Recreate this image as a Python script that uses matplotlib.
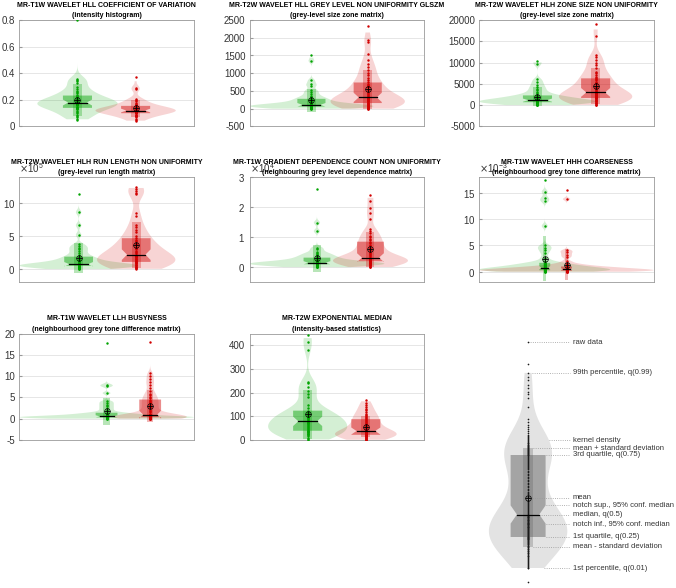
import numpy as np
import matplotlib
matplotlib.use('Agg')
import matplotlib.pyplot as plt
from matplotlib import mlab
from matplotlib.patches import Polygon, Rectangle
from matplotlib.ticker import FuncFormatter

plt.rcParams['font.family'] = ['Liberation Sans', 'DejaVu Sans']

# ---- raw data (green = group 1, red = group 2) ----
hll_cov_green = [0.05, 0.06, 0.07, 0.08, 0.09, 0.10, 0.11, 0.12, 0.13, 0.13, 0.14, 0.14,
                 0.15, 0.15, 0.16, 0.16, 0.16, 0.17, 0.17, 0.17, 0.17, 0.18, 0.18, 0.18,
                 0.19, 0.19, 0.20, 0.20, 0.21, 0.21, 0.22, 0.22, 0.23, 0.24, 0.25, 0.26,
                 0.27, 0.28, 0.30, 0.33, 0.34, 0.35, 0.36, 0.80]
hll_cov_red = [0.04, 0.05, 0.06, 0.07, 0.08, 0.08, 0.09, 0.09, 0.10, 0.10, 0.10, 0.11,
               0.11, 0.11, 0.11, 0.12, 0.12, 0.12, 0.12, 0.12, 0.13, 0.13, 0.13, 0.13,
               0.14, 0.14, 0.14, 0.15, 0.15, 0.16, 0.16, 0.17, 0.18, 0.19, 0.20, 0.21,
               0.28, 0.29, 0.37]

hll_glnu_green = [0, 5, 10, 15, 20, 30, 35, 40, 45, 50, 55, 60, 65, 70, 75, 80, 85, 90, 95,
                  95, 100, 105, 110, 120, 130, 140, 150, 160, 180, 200, 220, 240, 260, 280,
                  300, 330, 370, 420, 480, 520, 640, 700, 800, 1350, 1510]
hll_glnu_red = [0, 5, 15, 25, 40, 55, 70, 85, 100, 115, 130, 145, 160,
                175, 190, 205, 220, 235, 250, 265, 280, 290, 300, 310, 320,
                350, 380, 410, 440, 480, 520, 560, 600, 640, 680, 710, 740,
                800, 880, 950, 1020, 1100, 1180, 1250, 1370, 1550, 1890, 1950, 2330]

hlh_zsnu_green = [0, 60, 130, 200, 270, 340, 410, 470, 530, 590, 640, 700,
                  740, 790, 840, 890, 940, 990, 1030, 1070, 1110, 1150, 1180,
                  1250, 1350, 1450, 1550, 1650, 1750, 1850, 1950, 2050, 2180, 2300,
                  2500, 2800, 3100, 3500, 3900, 4300, 4800, 5400, 6050, 9590, 10380]
hlh_zsnu_red = [0, 150, 300, 450, 600, 750, 900, 1000, 1150, 1300, 1450, 1580, 1700,
                1800, 1900, 2000, 2100, 2200, 2300, 2450, 2550, 2650, 2750, 2880, 3000,
                3250, 3500, 3750, 4000, 4300, 4600, 4900, 5200, 5500, 5800, 6050, 6300,
                6700, 7200, 7500, 7800, 8650, 9350, 10000, 10600, 11240, 11800, 16350, 19100]

# x 1e5
hlh_rlnu_green = [0.0, 0.05, 0.1, 0.15, 0.2, 0.25, 0.3, 0.35, 0.4, 0.43, 0.47, 0.5,
                  0.52, 0.54, 0.56, 0.58, 0.6, 0.62, 0.64, 0.66, 0.69, 0.72, 0.75,
                  0.82, 0.9, 1.0, 1.1, 1.2, 1.3, 1.4, 1.5, 1.65, 1.78, 1.9,
                  2.1, 2.4, 2.7, 3.0, 3.2, 3.5, 3.75, 5.2, 6.65, 8.65, 11.45]
hlh_rlnu_red = [0.0, 0.1, 0.2, 0.3, 0.4, 0.5, 0.6, 0.7, 0.8, 0.87, 0.94, 1.02, 1.1,
                1.2, 1.3, 1.4, 1.5, 1.6, 1.7, 1.8, 1.9, 2.0, 2.05, 2.12, 2.2,
                2.4, 2.6, 2.8, 3.0, 3.2, 3.4, 3.6, 3.8, 4.0, 4.25, 4.5, 4.7,
                5.0, 5.6, 6.0, 6.4, 6.75, 8.15, 8.5, 11.35, 11.6, 11.85, 12.15, 12.5]

# x 1e4
gdcnu_green = [0.0, 0.01, 0.02, 0.03, 0.04, 0.05, 0.06, 0.07, 0.08, 0.085, 0.09, 0.1,
               0.105, 0.11, 0.115, 0.12, 0.125, 0.13, 0.135, 0.14, 0.143, 0.147, 0.15,
               0.16, 0.17, 0.18, 0.19, 0.2, 0.22, 0.24, 0.26, 0.28, 0.3, 0.32,
               0.34, 0.37, 0.4, 0.43, 0.46, 0.5, 0.6, 0.65, 1.2, 1.48, 2.6]
gdcnu_red = [0.0, 0.02, 0.04, 0.06, 0.08, 0.1, 0.12, 0.13, 0.14, 0.15, 0.17, 0.185, 0.2,
             0.21, 0.22, 0.23, 0.24, 0.25, 0.26, 0.27, 0.28, 0.29, 0.3, 0.31, 0.32,
             0.36, 0.4, 0.44, 0.48, 0.52, 0.56, 0.6, 0.65, 0.7, 0.75, 0.8, 0.85,
             0.9, 0.95, 1.0, 1.05, 1.15, 1.22, 1.28, 1.61, 1.8, 1.96, 2.21, 2.4]

# x 1e-3
hhh_coarse_green = [0.0, 0.03, 0.06, 0.09, 0.12, 0.15, 0.18, 0.2, 0.22, 0.25, 0.28, 0.3,
                    0.34, 0.38, 0.42, 0.46, 0.5, 0.54, 0.58, 0.62, 0.66, 0.7, 0.75,
                    0.82, 0.9, 0.98, 1.06, 1.14, 1.22, 1.3, 1.4, 1.5, 1.6, 1.7,
                    2.0, 2.7, 3.6, 4.2, 4.6, 5.0, 8.7, 13.4, 14.0, 15.2, 17.4]
hhh_coarse_red = [0.0, 0.02, 0.04, 0.06, 0.08, 0.1, 0.12, 0.13, 0.14, 0.15, 0.17, 0.18, 0.2,
                  0.22, 0.25, 0.28, 0.31, 0.34, 0.37, 0.4, 0.42, 0.44, 0.46, 0.48, 0.5,
                  0.54, 0.58, 0.62, 0.66, 0.7, 0.74, 0.78, 0.82, 0.86, 0.9, 0.95, 1.0,
                  1.1, 1.2, 1.3, 1.4, 1.6, 2.0, 2.8, 3.25, 3.7, 4.06, 13.8, 15.6]

llh_busy_green = [0.0, 0.03, 0.06, 0.09, 0.12, 0.15, 0.18, 0.2, 0.22, 0.25, 0.28, 0.3,
                  0.32, 0.34, 0.36, 0.38, 0.4, 0.42, 0.44, 0.46, 0.49, 0.52, 0.55,
                  0.6, 0.66, 0.72, 0.8, 0.88, 0.96, 1.04, 1.12, 1.2, 1.3, 1.4,
                  1.7, 2.1, 2.5, 2.9, 3.3, 3.7, 4.1, 6.0, 7.6, 8.0, 17.8]
llh_busy_red = [0.0, 0.02, 0.04, 0.06, 0.08, 0.1, 0.13, 0.16, 0.19, 0.22, 0.26, 0.3, 0.35,
                0.4, 0.45, 0.5, 0.55, 0.6, 0.65, 0.7, 0.75, 0.8, 0.85, 0.9, 0.95,
                1.2, 1.5, 1.8, 2.1, 2.4, 2.7, 3.0, 3.3, 3.6, 3.9, 4.2, 4.5,
                4.8, 5.1, 5.5, 5.9, 6.4, 7.2, 8.0, 8.6, 9.25, 10.0, 10.7, 18.1]

exp_median_green = [0, 5, 10, 15, 20, 24, 27, 30, 33, 35, 37, 39,
                    42, 46, 50, 54, 58, 62, 66, 70, 73, 76, 79,
                    83, 87, 91, 95, 99, 103, 107, 111, 115, 120, 124,
                    135, 148, 180, 194, 207, 225, 239, 246, 380, 415, 443]
exp_median_red = [0, 2, 4, 6, 8, 10, 12, 14, 16, 17, 19, 20, 22,
                  23, 24, 25, 27, 28, 29, 31, 32, 33, 35, 36, 38,
                  42, 46, 50, 54, 58, 62, 66, 70, 75, 80, 84, 88,
                  93, 98, 100, 104, 110, 118, 125, 131, 138, 148, 158, 169]

# demo sample for the explanatory violin (arbitrary units)
legend_demo = [0, 14,
               14, 15, 16, 17, 18, 19, 20, 21, 22, 23, 24, 25, 26, 26, 27, 28, 29, 29,
               30, 31, 31, 32, 33, 33, 34, 35, 35, 36, 36, 37, 38, 38, 39, 39, 40, 40,
               41, 41, 42, 42, 43, 43, 43, 44, 44, 44, 45, 45,
               45, 46, 46, 47, 47, 48, 48, 49, 49, 50, 50, 51, 51, 52, 52, 53, 53, 54,
               54, 55, 55, 55, 56, 56, 57, 57, 58, 58, 58, 59, 59, 59, 60, 60, 61, 61,
               62, 62, 62, 63, 63, 64, 64, 65, 65, 65, 66, 66, 67, 67,
               68, 69, 70, 71, 72, 73, 74, 75, 76, 77, 78, 79, 80, 81, 82, 84, 85, 86,
               88, 89, 90, 92, 93, 95, 96, 98, 99, 101, 102, 104, 105, 107, 108, 110,
               111, 113, 114, 115, 116, 117, 118, 119, 120, 121, 122, 123, 124, 125,
               126, 127,
               127, 128, 128, 129, 129, 130, 130, 131, 131, 132, 132, 133, 133, 134,
               134, 135, 135, 136, 136, 137, 137, 138, 139, 139, 140, 141, 142, 143,
               144, 145, 146, 147, 149, 151, 153, 155, 157, 160, 163,
               175, 184, 188, 190, 194, 197, 202, 205, 209,
               218, 240]

titles = ['MR-T1W WAVELET HLL COEFFICIENT OF VARIATION',
          'MR-T2W WAVELET HLL GREY LEVEL NON UNIFORMITY GLSZM',
          'MR-T2W WAVELET HLH ZONE SIZE NON UNIFORMITY',
          'MR-T2W WAVELET HLH RUN LENGTH NON UNIFORMITY',
          'MR-T1W GRADIENT DEPENDENCE COUNT NON UNIFORMITY',
          'MR-T1W WAVELET HHH COARSENESS',
          'MR-T1W WAVELET LLH BUSYNESS',
          'MR-T2W EXPONENTIAL MEDIAN']
subtitles = ['(intensity histogram)',
             '(grey-level size zone matrix)',
             '(grey-level size zone matrix)',
             '(grey-level run length matrix)',
             '(neighbouring grey level dependence matrix)',
             '(neighbourhood grey tone difference matrix)',
             '(neighbourhood grey tone difference matrix)',
             '(intensity-based statistics)']
green_sets = [hll_cov_green, hll_glnu_green, hlh_zsnu_green, hlh_rlnu_green,
              gdcnu_green, hhh_coarse_green, llh_busy_green, exp_median_green]
red_sets = [hll_cov_red, hll_glnu_red, hlh_zsnu_red, hlh_rlnu_red,
            gdcnu_red, hhh_coarse_red, llh_busy_red, exp_median_red]
exponents = [0, 0, 0, 5, 4, -3, 0, 0]
ylims = [(0, 0.8), (-500, 2500), (-5000, 20000), (-2, 14), (-0.5, 3), (-2, 18), (-5, 20), (0, 450)]
ytick_sets = [[0, 0.2, 0.4, 0.6, 0.8], [-500, 0, 500, 1000, 1500, 2000, 2500],
              [-5000, 0, 5000, 10000, 15000, 20000], [0, 5, 10], [0, 1, 2, 3],
              [0, 5, 10, 15], [-5, 0, 5, 10, 15, 20], [0, 100, 200, 300, 400]]

# violin half widths per panel (green, red)
vio_w = [(0.69, 0.69), (1.1, 0.66), (1.0, 0.63), (1.03, 0.68), (1.26, 0.7),
         (3.0, 4.0), (2.0, 0.84), (0.68, 0.53)]

GREEN = (0.0, 0.64, 0.0)
RED = (0.82, 0.0, 0.0)
GRAY = (0.35, 0.35, 0.35)
BOX_W, NOTCH_W, BAR_W = 0.25, 0.16, 0.075


def goodplot(ax, data, pos, color, half_w, pt_color=None, ms=3.5):
    data = np.asarray(data, float)
    n = data.size
    q01, q25, q50, q75, q99 = np.percentile(data, [1, 25, 50, 75, 99])
    mu, sd = data.mean(), data.std(ddof=1)
    notch = 1.57 * (q75 - q25) / np.sqrt(n)
    # ksdensity style bandwidth (robust sigma)
    sig = np.median(np.abs(data - q50)) / 0.6745
    bw = sig * (4.0 / (3 * n)) ** 0.2
    kde = mlab.GaussianKDE(data, bw_method=lambda k: bw / np.std(data, ddof=1))
    yy = np.linspace(q01, q99, 300)
    vals = kde.evaluate(yy)
    st = [dict(coords=yy, vals=vals, mean=mu, median=q50, min=q01, max=q99, quantiles=[])]
    vp = ax.violin(st, positions=[pos], widths=2 * half_w, showextrema=False)
    for b in vp['bodies']:
        b.set_facecolor(color)
        b.set_edgecolor('none')
        b.set_alpha(0.17)
    ax.add_patch(Rectangle((pos - BAR_W, mu - sd), 2 * BAR_W, 2 * sd,
                           fc=color, ec='none', alpha=0.28, zorder=2))
    verts = [(pos - BOX_W, q25), (pos + BOX_W, q25), (pos + BOX_W, q50 - notch),
             (pos + NOTCH_W, q50), (pos + BOX_W, q50 + notch), (pos + BOX_W, q75),
             (pos - BOX_W, q75), (pos - BOX_W, q50 + notch), (pos - NOTCH_W, q50),
             (pos - BOX_W, q50 - notch)]
    ax.add_patch(Polygon(verts, closed=True, fc=color, ec='none', alpha=0.45, zorder=2))
    ax.plot(np.full(n, pos), data, '.', color=pt_color or color, ms=ms, mew=0, zorder=3)
    ax.plot([pos - NOTCH_W, pos + NOTCH_W], [q50, q50], color='k', lw=0.9, zorder=4)
    ax.plot(pos, mu, 'o', mfc='none', mec='k', ms=4, mew=0.5, zorder=5)
    ax.plot(pos, mu, '+', color='k', ms=4.5, mew=0.6, zorder=5)
    w_at = lambda y: half_w * kde.evaluate([y])[0] / vals.max()
    return dict(q01=q01, q25=q25, q50=q50, q75=q75, q99=q99, mu=mu, sd=sd,
                notch=notch, max=data.max(), w_at=w_at)


fig = plt.figure(figsize=(6.76, 5.88), dpi=100)
FW, FH = 676.0, 588.0
col_x = [19.3, 249.5, 479.3]
rows = [(20, 126.5), (177, 282.3), (333.5, 440)]
AX_W = 174.5

for i in range(8):
    r, c = divmod(i, 3)
    top, bot = rows[r]
    ax = fig.add_axes([col_x[c] / FW, 1 - bot / FH, AX_W / FW, (bot - top) / FH])
    e = exponents[i]
    s = 10.0 ** e
    wg, wr = vio_w[i]
    goodplot(ax, np.asarray(green_sets[i]) * s, 1, GREEN, wg)
    goodplot(ax, np.asarray(red_sets[i]) * s, 2, RED, wr)
    ax.set_xlim(min(0, 1 - wg), max(3, 2 + wr))
    ax.set_ylim(ylims[i][0] * s, ylims[i][1] * s)
    ax.set_yticks(np.asarray(ytick_sets[i]) * s)
    ax.set_xticks([])
    if e != 0:
        ax.ticklabel_format(axis='y', style='sci', scilimits=(e, e), useMathText=True)
        ax.yaxis.get_offset_text().set_fontsize(7)
        ax.yaxis.get_offset_text().set_color('#333333')
    else:
        ax.yaxis.set_major_formatter(FuncFormatter(lambda v, p: '{:g}'.format(v)))
    ax.yaxis.grid(True, color='#e2e2e2', lw=0.6)
    ax.set_axisbelow(True)
    ax.tick_params(axis='y', length=2, direction='in', color='#999999',
                   labelsize=7, labelcolor='#333333', pad=3)
    for sp in ax.spines.values():
        sp.set_color('#9a9a9a')
        sp.set_linewidth(0.6)
    # two-line title: subtitle as the axes title (fixed y), main line just above it
    ax.set_title(subtitles[i], fontsize=5.0, fontweight='bold', pad=2, y=1.0)
    ax.annotate(titles[i], xy=(0.5, 1), xycoords='axes fraction',
                xytext=(0, 8.2), textcoords='offset points',
                ha='center', va='bottom', fontsize=5.0, fontweight='bold')

# explanatory violin
lax = fig.add_axes([470 / FW, 0, 206 / FW, 258 / FH])
lax.set_xlim(0, 206 / 70.0)
lax.set_ylim(-6, 252)
lax.axis('off')
lp = 0.83
st = goodplot(lax, legend_demo, lp, GRAY, 0.56, pt_color='#1a1a1a', ms=2.4)
tx, lx = 1.47, 1.43
kd_y = 142
labels = [
    ('raw data', st['max'], lp),
    ('99th percentile, q(0.99)', st['q99'], lp + st['w_at'](st['q99'])),
    ('kernel density', kd_y, lp + st['w_at'](kd_y)),
    ('mean + standard deviation', st['mu'] + st['sd'], lp + BAR_W),
    ('3rd quartile, q(0.75)', st['q75'], lp + BOX_W),
    ('mean', st['mu'], lp),
    ('notch sup., 95% conf. median', st['q50'] + st['notch'], lp + BOX_W),
    ('median, q(0.5)', st['q50'], lp + NOTCH_W),
    ('notch inf., 95% conf. median', st['q50'] - st['notch'], lp + BOX_W),
    ('1st quartile, q(0.25)', st['q25'], lp + BOX_W),
    ('mean - standard deviation', st['mu'] - st['sd'], lp + BAR_W),
    ('1st percentile, q(0.01)', st['q01'], lp + st['w_at'](st['q01'])),
]
for txt, y, x0 in labels:
    lax.plot([x0, lx], [y, y], ls=':', color='#999999', lw=0.6)
    lax.text(tx, y, txt, fontsize=5.5, color='#333333', va='center', ha='left')

fig.savefig('out.png', dpi=100)
